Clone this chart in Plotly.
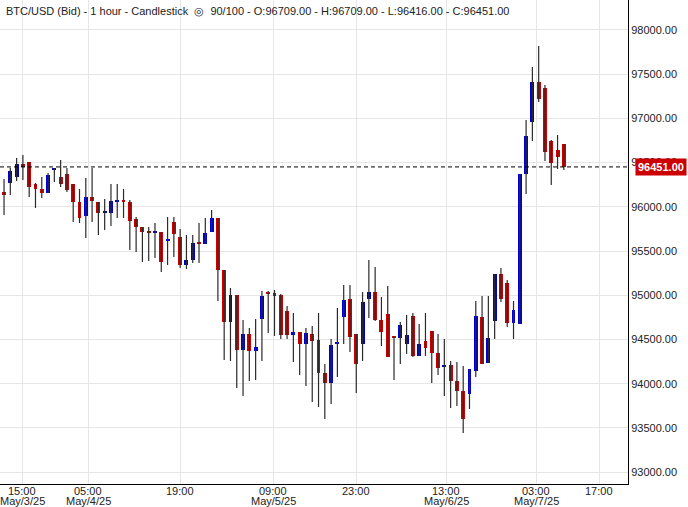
import plotly.graph_objects as go

# hourly BTC/USD bid candles
opens = [96167, 96270, 96337, 96484, 96507, 96258, 96202, 96156, 96417, 96337,
         96371, 96258, 96055, 95896, 96111, 96055, 95930, 95930, 96055, 96077,
         96055, 95862, 95772, 95715, 95705, 95715, 95620, 95828, 95659, 95342,
         95399, 95591, 95580, 95715, 95874, 95286, 94698, 95003, 94381, 94562,
         94370, 94731, 95026, 95026, 95003, 94822, 94550, 94584, 94449, 94562,
         94494, 94121, 94008, 94449, 94754, 94958, 94562, 94449, 94958, 95037,
         94720, 94788, 94533, 94517, 94449, 94765, 94313, 94483, 94596, 94347,
         94190, 94211, 94030, 93917, 93883, 94143, 94754, 94234, 94709, 95240,
         95138, 94686, 94675, 96371, 96960, 97412, 97344, 96745, 96643, 96709]
highs = [96315, 96440, 96552, 96586, 96507, 96270, 96337, 96383, 96440, 96530,
         96440, 96258, 96202, 96326, 96440, 96055, 96089, 96258, 96258, 96202,
         96077, 95885, 95772, 95772, 95817, 95715, 95885, 95885, 95749, 95681,
         95681, 95817, 95874, 95964, 95874, 95286, 95082, 95003, 94720, 94630,
         94731, 95048, 95048, 95060, 95015, 94878, 94800, 94584, 94630, 94652,
         94800, 94223, 94505, 94856, 95116, 95116, 94562, 95037, 95399, 95320,
         94980, 95105, 94540, 94698, 94777, 94800, 94675, 94800, 94596, 94562,
         94505, 94256, 94245, 94200, 94166, 94935, 94992, 94992, 95240, 95308,
         95172, 94935, 96371, 96982, 97582, 97820, 97378, 96756, 96812, 96709]
lows = [95908, 96134, 96292, 96303, 96110, 95987, 96100, 96156, 96281, 96224,
        96167, 95828, 95817, 95647, 95828, 95681, 95738, 95783, 95874, 95874,
        95512, 95489, 95376, 95387, 95421, 95263, 95342, 95433, 95308, 95297,
        95365, 95365, 95580, 95715, 94935, 94268, 94256, 93950, 93860, 94030,
        94042, 94256, 94573, 94539, 94505, 94505, 94245, 94098, 93974, 93793,
        93736, 93600, 93770, 94075, 94449, 94358, 93894, 94256, 94743, 94709,
        94426, 94302, 94042, 94223, 94336, 94302, 94313, 94313, 94008, 94098,
        93860, 93725, 93747, 93442, 93713, 94075, 94222, 94234, 94505, 94924,
        94641, 94505, 94675, 96145, 96745, 97186, 96518, 96247, 96428, 96416]
closes = [96134, 96405, 96484, 96450, 96224, 96202, 96156, 96360, 96417, 96258,
          96190, 96055, 95874, 96111, 96066, 95930, 95930, 96066, 96077, 96055,
          95840, 95772, 95715, 95705, 95715, 95376, 95630, 95693, 95342, 95399,
          95591, 95580, 95704, 95874, 95286, 94698, 95003, 94381, 94562, 94370,
          94415, 94992, 95015, 94992, 94550, 94550, 94584, 94449, 94573, 94483,
          94121, 94008, 94437, 94471, 94946, 94528, 94223, 94924, 95037, 94720,
          94584, 94302, 94517, 94664, 94550, 94313, 94449, 94404, 94347, 94177,
          94200, 94030, 93917, 93600, 94166, 94765, 94222, 94517, 95240, 94958,
          94686, 94833, 96371, 96801, 97412, 97220, 96620, 96496, 96564, 96451]

last_price = 96451
tick_pos = [2.86, 13.35, 27.98, 42.77, 55.96, 70.27, 84.58, 94.6]
tick_time = ["15:00", "05:00", "19:00", "09:00", "23:00", "13:00", "03:00", "17:00"]
tick_date = ["May/3/25", "May/4/25", "", "May/5/25", "", "May/6/25", "May/7/25", ""]

UP, DOWN, WICK = "#0000cc", "#cc0000", "#2b2b2b"
FONT = "Liberation Sans"

idx = list(range(len(opens)))
wx, wy = [], []
for i in idx:
    wx += [i, i, None]
    wy += [lows[i], highs[i], None]

base = [min(o, c) for o, c in zip(opens, closes)]
size = [max(abs(c - o), 12) for o, c in zip(opens, closes)]
cols = [UP if c >= o else DOWN for o, c in zip(opens, closes)]

fig = go.Figure()
fig.add_trace(go.Scatter(x=wx, y=wy, mode="lines", line=dict(color=WICK, width=1.2),
                         hoverinfo="skip", showlegend=False))
fig.add_trace(go.Bar(x=idx, y=size, base=base, marker=dict(color=cols, line=dict(width=0)),
                     width=0.62, showlegend=False))

fig.add_hline(y=last_price, line=dict(color="black", width=1, dash="4px,3px"))

fig.add_annotation(x=1, xref="paper", y=last_price, yref="y", xanchor="left", xshift=7,
                   text="<b>96451.00</b>", showarrow=False, bgcolor=DOWN,
                   font=dict(color="white", size=11, family=FONT), borderpad=2)
fig.add_annotation(x=0, xref="paper", y=1, yref="paper", xanchor="left", yanchor="top",
                   xshift=4, yshift=-3, showarrow=False, align="left",
                   text="BTC/USD (Bid) - 1 hour - Candlestick  ◎  90/100 - O:96709.00 - H:96709.00 - L:96416.00 - C:96451.00",
                   font=dict(size=11, color="#222", family=FONT))

# two-line time axis labels
for p, t, d in zip(tick_pos, tick_time, tick_date):
    fig.add_annotation(x=p, xref="x", y=0, yref="paper", yanchor="top", yshift=1,
                       text=t, showarrow=False, font=dict(size=11, color="#222", family=FONT))
    if d:
        fig.add_annotation(x=p, xref="x", y=0, yref="paper", yanchor="top", yshift=-9,
                           text=d, showarrow=False, font=dict(size=11, color="#222", family=FONT))

fig.update_layout(
    width=688, height=507,
    margin=dict(l=0, r=60, t=0, b=23),
    plot_bgcolor="white", paper_bgcolor="white",
    font=dict(family=FONT, size=11, color="#222"),
    bargap=0,
    xaxis=dict(range=[-0.64, 99.2], tickvals=tick_pos, showticklabels=False,
               showgrid=True, gridcolor="#e6e6e6", showline=True, linecolor="black",
               ticks="", zeroline=False),
    yaxis=dict(range=[92865, 98339], side="right", dtick=500, tickformat=".2f",
               showgrid=True, gridcolor="#e6e6e6", showline=True, linecolor="black",
               ticks="", zeroline=False, tickfont=dict(size=11)),
)

fig.write_html("out.html", config={"displayModeBar": False},
               post_script="document.body.style.margin='0';")
